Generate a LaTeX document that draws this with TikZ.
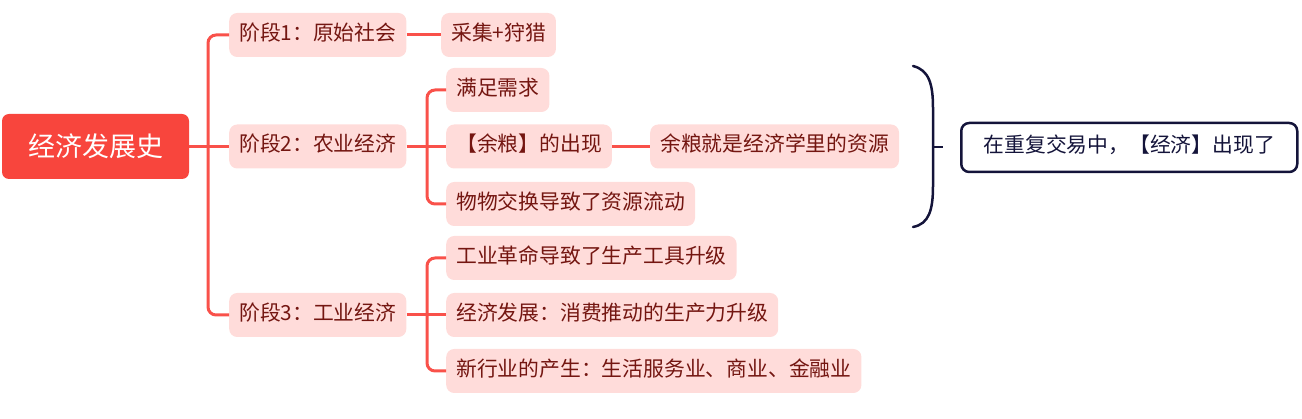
\documentclass[tikz,border=0pt]{standalone}
\usepackage{fontspec}
\setmainfont{Noto Sans CJK SC}
\definecolor{branchred}{HTML}{F9514A}
\definecolor{rootred}{HTML}{F8453D}
\definecolor{topicpink}{HTML}{FFDCDA}
\definecolor{topictext}{HTML}{741611}
\definecolor{navy}{HTML}{14143A}
\begin{document}
\begin{tikzpicture}[x=1pt, y=-1pt,
    topic/.style={fill=topicpink, text=topictext, rounded corners=8pt, anchor=west,
        font=\fontsize{20.8}{24}\selectfont, inner xsep=10pt, inner ysep=0pt,
        minimum height=44pt, text height=15.5pt, text depth=4.5pt},
    branch/.style={draw=branchred, line width=3pt, rounded corners=8pt}]
    \useasboundingbox (0,0) rectangle (1302,419);

    % 1. Chủ đề trung tâm
    \node[fill=rootred, text=white, rounded corners=7pt, minimum width=187pt,
        minimum height=65pt, font=\fontsize{27}{30}\selectfont] (root) at (95.5,146.5) {经济发展史};

    % 2. Ba giai đoạn
    \node[topic] (stage1) at (229,35) {阶段1：原始社会};
    \node[topic] (stage2) at (229,146.5) {阶段2：农业经济};
    \node[topic] (stage3) at (229,315) {阶段3：工业经济};

    % 3. Các ý nhỏ
    \node[topic] (hunt) at (441,35) {采集+狩猎};
    \node[topic] (need) at (446,90) {满足需求};
    \node[topic] (grain) at (446,146.5) {【余粮】的出现};
    \node[topic] (resource) at (650,146.5) {余粮就是经济学里的资源};
    \node[topic] (barter) at (446,204) {物物交换导致了资源流动};
    \node[topic] (tools) at (446,258) {工业革命导致了生产工具升级};
    \node[topic] (consume) at (446,315) {经济发展：消费推动的生产力升级};
    \node[topic] (industry) at (446,371) {新行业的产生：生活服务业、商业、金融业};

    % 4. Đường nối
    \coordinate (trunk1) at (208,146.5);
    \coordinate (trunk2) at (427,146.5);
    \coordinate (trunk3) at (427,315);
    \draw[branch] (root.east) -- (stage2.west);
    \draw[branch] (trunk1) |- (stage1.west);
    \draw[branch] (trunk1) |- (stage3.west);
    \draw[branch] (stage1.east) -- (hunt.west);
    \draw[branch] (stage2.east) -- (grain.west);
    \draw[branch] (trunk2) |- (need.west);
    \draw[branch] (trunk2) |- (barter.west);
    \draw[branch] (grain.east) -- (resource.west);
    \draw[branch] (stage3.east) -- (consume.west);
    \draw[branch] (trunk3) |- (tools.west);
    \draw[branch] (trunk3) |- (industry.west);

    % 5. Ngoặc tổng kết
    \node[draw=navy, line width=2.5pt, text=navy, rounded corners=8pt, anchor=west,
        font=\fontsize{20.8}{24}\selectfont, inner xsep=12pt, inner ysep=0pt,
        minimum width=336pt, minimum height=49pt, text height=15.5pt, text depth=4.5pt]
        (summary) at (960,147.5) {在重复交易中，【经济】出现了};
    \coordinate (braceTip) at (943,147);
    \draw[navy, line width=2.5pt, line cap=round]
        (913,66) .. controls (929,70) and (933,84) .. (933,108) -- (933,186)
        .. controls (933,210) and (929,224) .. (913,227);
    \draw[navy, line width=2.5pt] (933,147) -- (braceTip);
\end{tikzpicture}
\end{document}
